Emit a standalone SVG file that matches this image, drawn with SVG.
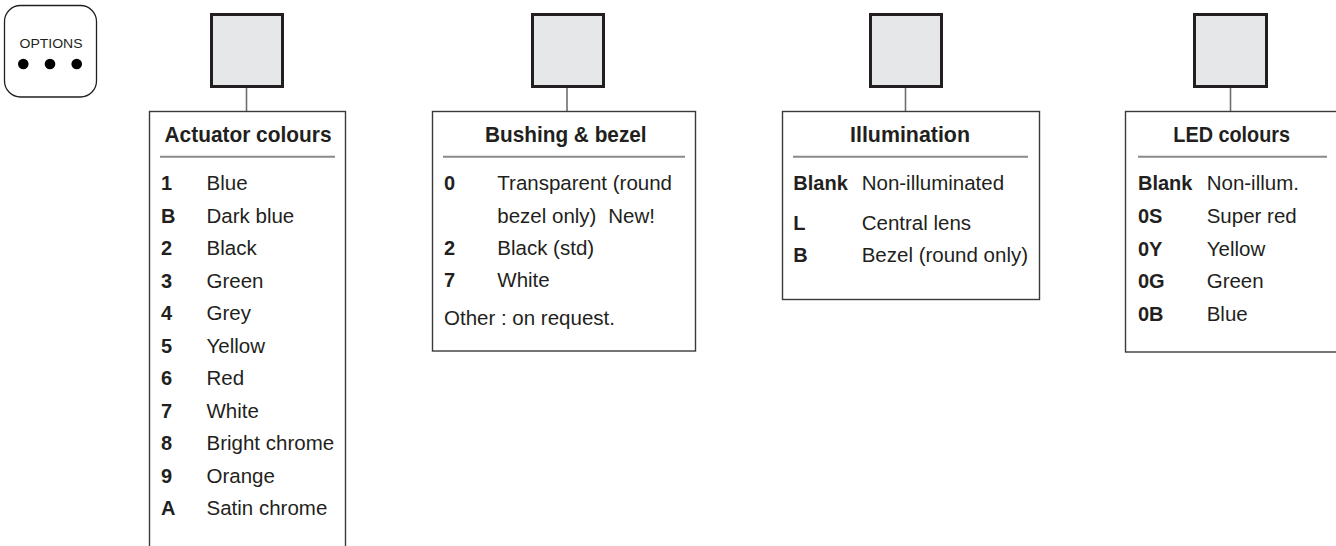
<svg xmlns="http://www.w3.org/2000/svg" width="1336" height="546" viewBox="0 0 1336 546">
<style>
.bg{fill:#ffffff}
.sq{fill:#e6e7e8;stroke:#231f20;stroke-width:3}
.box{fill:#ffffff;stroke:#3a3a3a;stroke-width:1.4}
.conn{stroke:#6d6e71;stroke-width:1.6;fill:none}
.div{stroke:#8a8a8a;stroke-width:2}
text{font-family:"Liberation Sans",Arial,sans-serif;fill:#231f20}
.title{font-size:22px;font-weight:bold;text-anchor:middle}
.key{font-size:20px;font-weight:bold}
.desc{font-size:20.5px}
.opt{font-size:13.5px;text-anchor:middle}
</style>
<rect class="bg" x="0" y="0" width="1336" height="546"/>

<g id="options">
<rect x="4.5" y="5.5" width="92" height="91.5" rx="16" ry="16" fill="#ffffff" stroke="#231f20" stroke-width="1.3"/>
<text class="opt" x="51" y="48.3" textLength="63" lengthAdjust="spacingAndGlyphs">OPTIONS</text>
<circle cx="23.3" cy="64" r="5.3" fill="#000"/>
<circle cx="50" cy="64" r="5.3" fill="#000"/>
<circle cx="76.7" cy="64" r="5.3" fill="#000"/>
</g>

<g id="connectors">
<line class="conn" x1="246.5" y1="88" x2="246.5" y2="111.5"/>
<line class="conn" x1="567" y1="88" x2="567" y2="111.5"/>
<line class="conn" x1="905.5" y1="88" x2="905.5" y2="111.5"/>
<line class="conn" x1="1230.5" y1="88" x2="1230.5" y2="111.5"/>
</g>

<g id="actuator-square"><rect class="sq" x="211.5" y="14.5" width="71" height="72"/></g>
<g id="bushing-square"><rect class="sq" x="532.5" y="14.5" width="71" height="72"/></g>
<g id="illumination-square"><rect class="sq" x="870.5" y="14.5" width="71" height="72"/></g>
<g id="led-square"><rect class="sq" x="1194.5" y="14.5" width="72" height="72"/></g>

<g id="actuator-colours">
<rect class="box" x="149.5" y="111.5" width="196" height="445"/>
<text class="title" x="248" y="141.7" textLength="167" lengthAdjust="spacingAndGlyphs">Actuator colours</text>
<line class="div" x1="160" y1="156.7" x2="335" y2="156.7"/>
<text class="key" x="161" y="190">1</text><text class="desc" x="206.5" y="190">Blue</text>
<text class="key" x="161" y="222.5">B</text><text class="desc" x="206.5" y="222.5">Dark blue</text>
<text class="key" x="161" y="255">2</text><text class="desc" x="206.5" y="255">Black</text>
<text class="key" x="161" y="287.5">3</text><text class="desc" x="206.5" y="287.5">Green</text>
<text class="key" x="161" y="320">4</text><text class="desc" x="206.5" y="320">Grey</text>
<text class="key" x="161" y="352.5">5</text><text class="desc" x="206.5" y="352.5">Yellow</text>
<text class="key" x="161" y="385">6</text><text class="desc" x="206.5" y="385">Red</text>
<text class="key" x="161" y="417.5">7</text><text class="desc" x="206.5" y="417.5">White</text>
<text class="key" x="161" y="450">8</text><text class="desc" x="206.5" y="450">Bright chrome</text>
<text class="key" x="161" y="482.5">9</text><text class="desc" x="206.5" y="482.5">Orange</text>
<text class="key" x="161" y="515">A</text><text class="desc" x="206.5" y="515">Satin chrome</text>
</g>

<g id="bushing-bezel">
<rect class="box" x="432.5" y="111.5" width="263" height="239.5"/>
<text class="title" x="565.8" y="141.7" textLength="161.7" lengthAdjust="spacingAndGlyphs">Bushing &amp; bezel</text>
<line class="div" x1="443" y1="156.7" x2="685" y2="156.7"/>
<text class="key" x="444" y="190">0</text><text class="desc" x="497.3" y="190">Transparent (round</text>
<text class="desc" x="497.3" y="222.7">bezel only)</text><text class="desc" x="608.3" y="222.7">New!</text>
<text class="key" x="444" y="255">2</text><text class="desc" x="497.3" y="255">Black (std)</text>
<text class="key" x="444" y="287.3">7</text><text class="desc" x="497.3" y="287.3">White</text>
<text class="desc" x="444" y="325">Other : on request.</text>
</g>

<g id="illumination">
<rect class="box" x="782.5" y="111.5" width="257" height="188"/>
<text class="title" x="910" y="141.7" textLength="120" lengthAdjust="spacingAndGlyphs">Illumination</text>
<line class="div" x1="793" y1="156.7" x2="1028" y2="156.7"/>
<text class="key" x="793.3" y="189.5">Blank</text><text class="desc" x="861.7" y="189.5">Non-illuminated</text>
<text class="key" x="793.3" y="230">L</text><text class="desc" x="861.7" y="230">Central lens</text>
<text class="key" x="793.3" y="261.7">B</text><text class="desc" x="861.7" y="261.7">Bezel (round only)</text>
</g>

<g id="led-colours">
<rect class="box" x="1125.5" y="111.5" width="230" height="240.5"/>
<text class="title" x="1231.7" y="141.7" textLength="116.7" lengthAdjust="spacingAndGlyphs">LED colours</text>
<line class="div" x1="1138" y1="156.7" x2="1327" y2="156.7"/>
<text class="key" x="1138" y="190">Blank</text><text class="desc" x="1206.7" y="190">Non-illum.</text>
<text class="key" x="1138" y="222.8">0S</text><text class="desc" x="1206.7" y="222.8">Super red</text>
<text class="key" x="1138" y="255.5">0Y</text><text class="desc" x="1206.7" y="255.5">Yellow</text>
<text class="key" x="1138" y="288.2">0G</text><text class="desc" x="1206.7" y="288.2">Green</text>
<text class="key" x="1138" y="320.8">0B</text><text class="desc" x="1206.7" y="320.8">Blue</text>
</g>
</svg>
